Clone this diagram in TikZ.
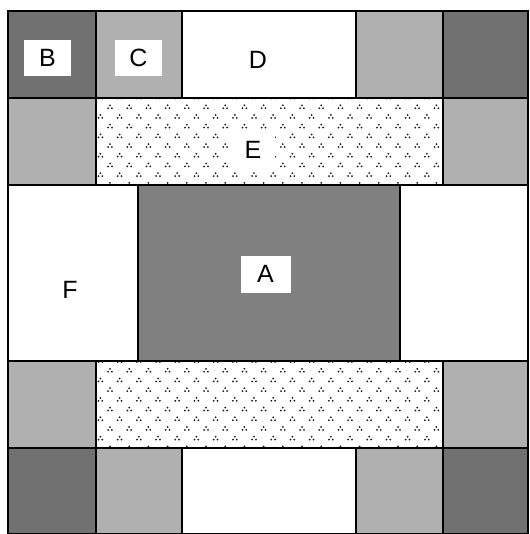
\documentclass[tikz,border=0pt]{standalone}
\usepackage{fontspec}
\setmainfont{Liberation Sans}
\definecolor{dk}{HTML}{717171}
\definecolor{lt}{HTML}{B0B0B0}
\definecolor{mid}{HTML}{808080}
\definecolor{dotc}{HTML}{1A1A1A}
\newcommand{\dotrows}[2]{%
  \foreach \r in {-1,...,8} {%
    \foreach \c in {0,...,19} {%
      \pgfmathsetmacro\xx{100.4+9.6*(1-mod(\r+2,2))+19.2*(\c-1)}%
      \pgfmathsetmacro\yy{#2+9.7*\r}%
      \fill[dotc] (\xx,\yy-1.7) circle (1.0) (\xx-1.9,\yy+1.2) circle (1.0) (\xx+1.9,\yy+1.2) circle (1.0);
    }%
  }%
}
\begin{document}
\begin{tikzpicture}[x=1pt,y=-1pt, line width=1.2pt,
  cell/.style={draw=black},
  lab/.style={font=\fontsize{25}{29}\selectfont, inner sep=0pt},
  labbox/.style={lab, fill=white, minimum width=47pt, minimum height=36pt}]
\useasboundingbox (0,0) rectangle (529,534);
% top row
\filldraw[cell, fill=dk] (8,11) rectangle (96,98);
\filldraw[cell, fill=lt] (96,11) rectangle (182,98);
\filldraw[cell, fill=white] (182,11) rectangle (356,98);
\filldraw[cell, fill=lt] (356,11) rectangle (443,98);
\filldraw[cell, fill=dk] (443,11) rectangle (528,98);
% second row
\filldraw[cell, fill=lt] (8,98) rectangle (96,185);
\filldraw[cell, fill=lt] (443,98) rectangle (528,185);
\begin{scope}
  \clip (96,98) rectangle (443,185);
  \fill[white] (96,98) rectangle (443,185);
  \dotrows{0}{107}
\end{scope}
\draw[cell] (96,98) rectangle (443,185);
% middle row
\filldraw[cell, fill=white] (8,185) rectangle (138,361);
\filldraw[cell, fill=mid] (138,185) rectangle (400,361);
\filldraw[cell, fill=white] (400,185) rectangle (528,361);
% fourth row
\filldraw[cell, fill=lt] (8,361) rectangle (96,448);
\filldraw[cell, fill=lt] (443,361) rectangle (528,448);
\begin{scope}
  \clip (96,361) rectangle (443,448);
  \fill[white] (96,361) rectangle (443,448);
  \dotrows{0}{370.5}
\end{scope}
\draw[cell] (96,361) rectangle (443,448);
% bottom row
\filldraw[cell, fill=dk] (8,448) rectangle (96,534);
\filldraw[cell, fill=lt] (96,448) rectangle (182,534);
\filldraw[cell, fill=white] (182,448) rectangle (356,534);
\filldraw[cell, fill=lt] (356,448) rectangle (443,534);
\filldraw[cell, fill=dk] (443,448) rectangle (528,534);
% labels
\node[labbox] (B) at (47.5,58) {B};
\node[labbox] (C) at (138.5,58) {C};
\node[lab] (D) at (258,60) {D};
\node[labbox, minimum width=44pt] (E) at (253,150) {E};
\node[lab] (F) at (70,290) {F};
\node[labbox, minimum width=50pt, minimum height=37pt] (A) at (265.5,274) {A};
\end{tikzpicture}
\end{document}
